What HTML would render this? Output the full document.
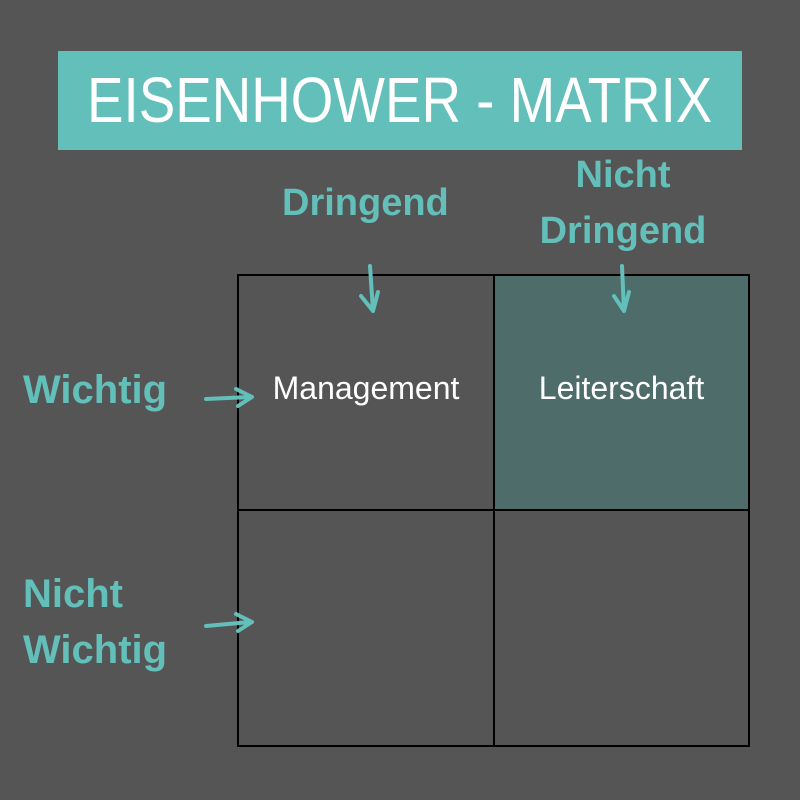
<!DOCTYPE html>
<html><head><style>
body{margin:0;width:800px;height:800px;background:#555555;position:relative;overflow:hidden;font-family:"Liberation Sans",sans-serif}
.t{position:absolute;color:#63bfba;font-weight:bold;font-size:38px;line-height:56px;white-space:nowrap}
.w{position:absolute;color:#fff;font-size:32px;white-space:nowrap}
</style></head><body>
<div style="position:absolute;left:58px;top:51px;width:684px;height:99px;background:#63bfba"></div>
<div style="position:absolute;left:0;top:51px;width:800px;height:99px;line-height:99px;text-align:center;white-space:nowrap"><span style="display:inline-block;color:#fff;font-size:64px;transform:scaleX(0.855)">EISENHOWER - MATRIX</span></div>
<div style="position:absolute;left:494px;top:275px;width:255px;height:235px;background:#4e6c69"></div>
<svg width="800" height="800" style="position:absolute;left:0;top:0">
<g fill="none" stroke="#000" stroke-width="2">
<rect x="238" y="275" width="511" height="471"/>
<line x1="494" y1="275" x2="494" y2="746"/>
<line x1="238" y1="510" x2="749" y2="510"/>
</g>
<g fill="none" stroke="#63bfba" stroke-width="4" stroke-linecap="round" stroke-linejoin="round">
<path d="M370 266 L373 311 M361 296 L373 311 L378 292"/>
<path d="M622 266 L624 311 M614 296 L624 311 L629 292"/>
<path d="M206 399 L250 397 M236 389 L252 397 L238 406"/>
<path d="M206 626 L250 622 M236 614 L252 622 L238 631"/>
</g>
</svg>
<div class="t" style="left:282px;top:175px">Dringend</div>
<div class="t" style="left:538px;top:147px;width:170px;text-align:center">Nicht<br>Dringend</div>
<div class="t" style="left:23px;top:362px;font-size:40px">Wichtig</div>
<div class="t" style="left:23px;top:566px;font-size:40px">Nicht<br>Wichtig</div>
<div class="w" style="left:238px;top:370px;width:256px;text-align:center">Management</div>
<div class="w" style="left:494px;top:370px;width:255px;text-align:center">Leiterschaft</div>
</body></html>
